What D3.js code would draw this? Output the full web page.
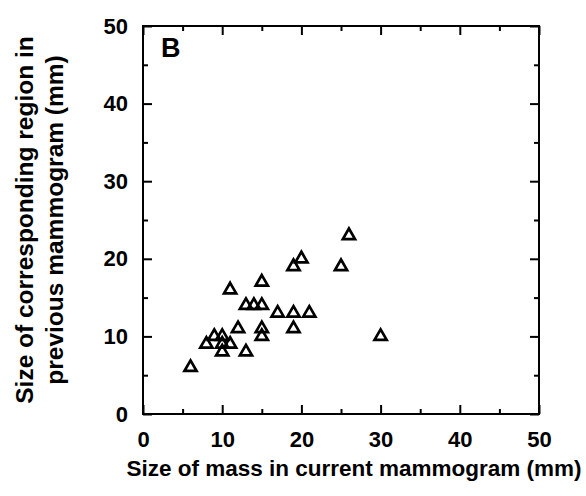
<html>
  <head>
    <style>
      body { margin: 0; background: #fff; }
      svg text { font-family: "Liberation Sans", Arial, Helvetica, sans-serif; font-weight: bold; fill: #000; }
    </style>
  </head>
  <body>
    <div id="vis"></div>
    <script src="https://d3js.org/d3.v7.min.js"></script>
    <script>
      // sizes (mm)
      const currentSize  = [6, 8, 9, 10, 10, 11, 10, 11, 12, 13, 13, 14, 15, 15, 15, 15, 17, 19, 19, 21, 19, 20, 25, 26, 30]
      const previousSize = [6, 9, 10, 10, 9, 9, 8, 16, 11, 8, 14, 14, 14, 17, 11, 10, 13, 13, 11, 13, 19, 20, 19, 23, 10]
      const majorTicks = [0, 10, 20, 30, 40, 50]
      const minorTicks = [5, 15, 25, 35, 45]

      const width = 586, height = 496
      const mLeft = 143, mRight = 539, mTop = 26, mBottom = 414

      const svg = d3.select('#vis').append('svg').attr('width', width).attr('height', height)

      const x = d3.scaleLinear().domain([0, 50]).range([mLeft, mRight])
      const y = d3.scaleLinear().domain([0, 50]).range([mBottom, mTop])

      // ticks on all four sides, pointing inward
      function drawAxis(axisFn, scale, tx, ty, pad) {
        const g = svg.append('g').attr('transform', 'translate(' + tx + ',' + ty + ')')
        g.call(axisFn(scale).tickValues(majorTicks).tickSize(-9).tickPadding(pad || 0)
          .tickFormat(pad ? d3.format('d') : ''))
        g.append('g').call(axisFn(scale).tickValues(minorTicks).tickSize(-5).tickFormat(''))
        g.selectAll('.domain').remove()
        g.selectAll('line').attr('stroke', '#000').attr('stroke-width', 2)
        g.selectAll('text').attr('font-size', 22).attr('fill', '#000')
        return g
      }
      drawAxis(d3.axisBottom, x, 0, mBottom, 17)
      drawAxis(d3.axisTop, x, 0, mTop, 0)
      drawAxis(d3.axisLeft, y, mLeft, 0, 15)
      drawAxis(d3.axisRight, y, mRight, 0, 0)

      svg.append('rect')
        .attr('x', mLeft).attr('y', mTop)
        .attr('width', mRight - mLeft).attr('height', mBottom - mTop)
        .attr('fill', 'none').attr('stroke', '#000').attr('stroke-width', 2)

      // points
      const tri = d3.symbol(d3.symbolTriangle, 64)
      svg.append('g').selectAll('path')
        .data(currentSize)
        .join('path')
        .attr('d', tri)
        .attr('transform', (d, i) => 'translate(' + x(d) + ',' + y(previousSize[i]) + ')')
        .attr('fill', 'none')
        .attr('stroke', '#000')
        .attr('stroke-width', 2.7)

      svg.append('text')
        .attr('x', 161).attr('y', 57)
        .attr('font-size', 27)
        .text('B')

      svg.append('text')
        .attr('x', 354).attr('y', 476)
        .attr('text-anchor', 'middle')
        .attr('font-size', 22.5)
        .text('Size of mass in current mammogram (mm)')

      const yTitle = svg.append('text')
        .attr('transform', 'translate(0,220) rotate(-90)')
        .attr('text-anchor', 'middle')
        .attr('font-size', 24.5)
      yTitle.append('tspan').attr('x', 0).attr('y', 33).text('Size of corresponding region in')
      yTitle.append('tspan').attr('x', 0).attr('y', 63).text('previous mammogram (mm)')
    </script>
  </body>
</html>
